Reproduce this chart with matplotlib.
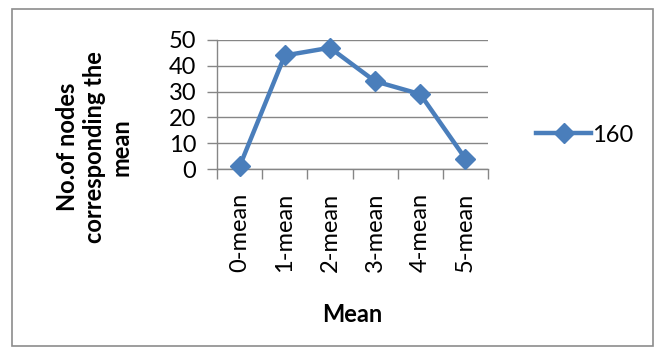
import matplotlib
matplotlib.use("Agg")
import matplotlib.pyplot as plt
import numpy as np
from matplotlib.patches import Rectangle

categories = ["0-mean", "1-mean", "2-mean", "3-mean", "4-mean", "5-mean"]
values = [1, 44, 47, 34, 29, 4]
series_name = "160"
yticks = [0, 10, 20, 30, 40, 50]

plt.rcParams['font.family'] = ['Lato', 'DejaVu Sans']

W, H = 662, 358
fig = plt.figure(figsize=(W / 100, H / 100), dpi=100)

# outer chart frame
fig.patches.append(Rectangle((12 / W, 1 - 346 / H), 641 / W, 337 / H,
                             transform=fig.transFigure, fill=False,
                             edgecolor="#8c8c8c", linewidth=1.2))

# plot area
x0, x1, y0, y1 = 217, 488, 40, 169
ax = fig.add_axes([x0 / W, 1 - y1 / H, (x1 - x0) / W, (y1 - y0) / H])

blue = "#4a7ebb"
grid = "#868686"
fs = 17
x = np.arange(len(categories))
ax.plot(x, values, color=blue, linewidth=3.2, marker="D", markersize=10,
        markerfacecolor=blue, markeredgecolor=blue, label=series_name,
        clip_on=False, zorder=3)

ax.set_xlim(-0.5, len(categories) - 0.5)
ax.set_ylim(0, 50)
ax.set_yticks(yticks)
ax.yaxis.grid(True, color=grid, linewidth=1)
ax.set_axisbelow(True)

# category labels at centers, tick marks at boundaries
ax.set_xticks(x)
ax.set_xticklabels(categories, rotation=90, fontsize=fs)
ax.tick_params(axis="x", length=0, pad=17)
ax.set_xticks(np.arange(-0.5, len(categories)), minor=True)
ax.tick_params(axis="x", which="minor", length=7, color=grid, width=1)
ax.tick_params(axis="y", length=7, color=grid, width=1, labelsize=fs, pad=8)

for s in ["top", "right"]:
    ax.spines[s].set_visible(False)
for s in ["left", "bottom"]:
    ax.spines[s].set_color(grid)
    ax.spines[s].set_linewidth(1)

fig.text(352 / W, 1 - 315 / H, "Mean", fontsize=fs, fontweight="bold",
         ha="center", va="center")
fig.text(94 / W, 1 - 147 / H, "No.of nodes\ncorresponding the\nmean",
         fontsize=fs, fontweight="bold", rotation=90, ha="center",
         va="center", multialignment="center", linespacing=1.2)

fig.legend(loc="center left", bbox_to_anchor=(527 / W, 1 - 135 / H),
           frameon=False, fontsize=fs, handlelength=2.3, handletextpad=0.05,
           borderaxespad=0)

fig.savefig("out.png", dpi=100)
